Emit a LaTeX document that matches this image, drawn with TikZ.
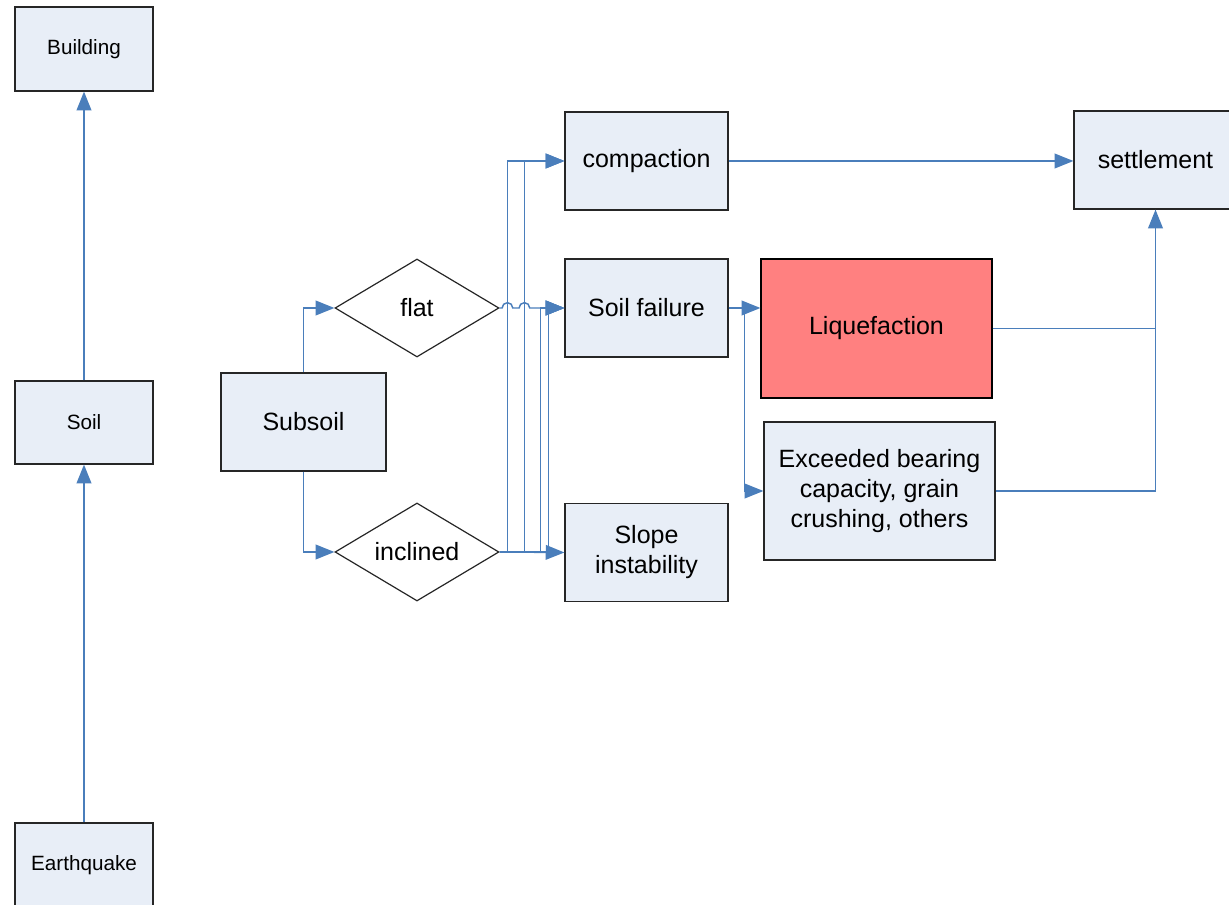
\documentclass[tikz,border=0pt]{standalone}
\usepackage{fontspec}
\setmainfont{Liberation Sans}
\usetikzlibrary{shapes.geometric,arrows.meta,calc}
\definecolor{boxfill}{HTML}{E8EEF7}
\definecolor{liqfill}{HTML}{FF8080}
\definecolor{conn}{HTML}{4A7EBB}
\tikzset{
  box/.style={draw=black!85, line width=0.9pt, fill=boxfill, inner sep=2pt, align=center},
  smallbox/.style={box, minimum width=103.5pt, minimum height=63pt, font=\fontsize{15.5}{18}\selectfont},
  bigbox/.style={box, minimum width=122.25pt, minimum height=73.5pt, font=\fontsize{18.75}{22.5}\selectfont},
  dia/.style={diamond, draw=black!85, line width=0.9pt, fill=white, aspect=1.67, inner sep=0pt,
    minimum width=123pt, minimum height=73.5pt, font=\fontsize{18.75}{22.5}\selectfont},
  arr/.style={draw=conn, line width=1.1pt, -{Triangle[length=14pt,width=11pt]}},
  ln/.style={draw=conn, line width=1.1pt}
}
\begin{document}
\begin{tikzpicture}[x=0.75pt,y=-0.75pt]
\useasboundingbox (0,0) rectangle (1229,905);
% left column
\node[smallbox] (bld) at (84,49) {Building};
\node[smallbox, minimum height=62.25pt] (soil) at (84,422.5) {Soil};
\node[smallbox] (eq) at (84,865) {Earthquake};
% middle
\node[bigbox, minimum width=123.75pt] (sub) at (303.5,422) {Subsoil};
\node[dia] (flat) at (417,308) {flat};
\node[dia] (incl) at (417,552) {inclined};
\node[bigbox] (comp) at (646.5,161) {compaction};
\node[bigbox] (sf) at (646.5,308) {Soil failure};
\node[bigbox] (slope) at (646.5,552.5) {Slope\\instability};
\node[bigbox] (settl) at (1155.5,160) {settlement};
\node[box, fill=liqfill, draw=black, minimum width=173.25pt, minimum height=104.25pt, font=\fontsize{18.75}{22.5}\selectfont] (liq) at (876.5,328.5) {Liquefaction};
\node[box, minimum width=173.25pt, minimum height=103.5pt, font=\fontsize{18.75}{22.5}\selectfont] (exc) at (879.5,491) {Exceeded bearing\\capacity, grain\\crushing, others};
% connectors
\draw[arr] (eq.north) -- (soil.south);
\draw[arr] (soil.north) -- (bld.south);
\draw[arr] (sub.north) |- (flat.west);
\draw[arr] (sub.south) |- (incl.west);
\draw[arr] (incl.east) -- ++(8,0) |- (comp.west);
\draw[arr] (incl.east) -- ++(25,0) |- (comp.west);
\draw[arr] (incl.east) -- ++(41,0) |- (sf.west);
\draw[arr] (incl.east) -- ++(49,0) |- (sf.west);
\draw[arr] (incl.east) -- (slope.west);
\draw[arr] (flat.east) -- ++(2.5,0) arc[start angle=180,end angle=0,radius=4pt]
  -- ++(6.3,0) arc[start angle=180,end angle=0,radius=4pt] -- (sf.west);
\draw[arr] (comp.east) -- (comp.east -| settl.west);
\draw[arr] (sf.east) -- (sf.east -| liq.west);
\draw[arr] (sf.east) -- ++(16,0) |- (exc.west);
\draw[ln] (liq.east) -| (settl.south);
\draw[arr] (exc.east) -| (settl.south);
\end{tikzpicture}
\end{document}
